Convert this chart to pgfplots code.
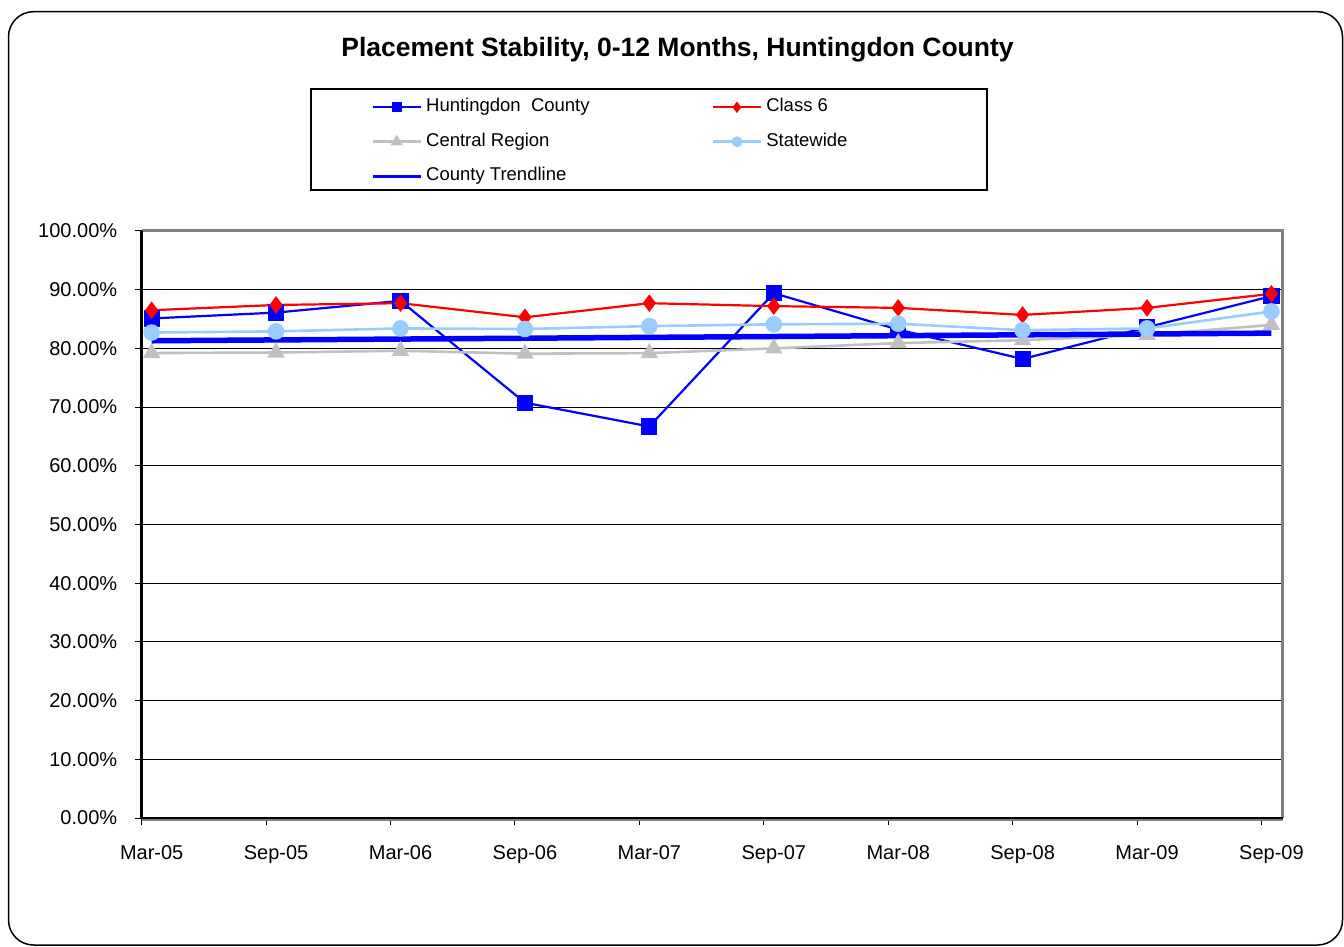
\documentclass[border=0pt]{standalone}
\usepackage{fontspec}
\setmainfont{Liberation Sans}
\usepackage{pgfplots}
\pgfplotsset{compat=1.18}
\definecolor{huntblue}{RGB}{0,0,255}
\definecolor{classred}{RGB}{255,0,0}
\definecolor{centralgray}{RGB}{192,192,192}
\definecolor{statelight}{RGB}{153,204,255}
\definecolor{frame}{RGB}{128,128,128}
\begin{document}
\begin{tikzpicture}[x=1pt,y=1pt]
\path[use as bounding box] (0,0) rectangle (1344,946);
% outer chart frame
\draw[line width=1.5pt, rounded corners=25pt] (8.5,1) rectangle (1342.5,934.3);
\node[anchor=base, font=\fontsize{26.5}{30}\selectfont\bfseries] at (677.5,889)
  {Placement Stability, 0-12 Months, Huntingdon County};
% legend box
\draw[line width=1.5pt] (311,857) rectangle (987,756);
\begin{axis}[
  at={(141.7pt,128pt)}, anchor=south west,
  scale only axis, width=1141pt, height=587pt,
  xmin=-0.08, xmax=9.09,
  ymin=0, ymax=100,
  xtick={-0.08,0.92,1.92,2.92,3.92,4.92,5.92,6.92,7.92,8.92},
  xticklabels={Mar-05,Sep-05,Mar-06,Sep-06,Mar-07,Sep-07,Mar-08,Sep-08,Mar-09,Sep-09},
  xticklabel style={xshift=10pt, yshift=-17pt, font=\fontsize{20}{24}\selectfont},
  ytick={0,10,20,30,40,50,60,70,80,90,100},
  yticklabels={0.00\%,10.00\%,20.00\%,30.00\%,40.00\%,50.00\%,60.00\%,70.00\%,80.00\%,90.00\%,100.00\%},
  yticklabel style={xshift=-14pt, font=\fontsize{20}{24}\selectfont},
  ymajorgrids, major grid style={black, line width=1pt},
  tick pos=left, tick align=outside, major tick length=7pt,
  tick style={black, line width=1pt},
  axis line style={draw=none},
  clip=false,
  legend columns=2,
  legend style={draw=none, fill=none, at={(0.1983,1.2290)}, anchor=north west,
    font=\fontsize{18.5}{22}\selectfont, row sep=17.5pt,
    nodes={inner xsep=4pt, inner ysep=0pt, text height=13pt, text depth=4pt},
    /tikz/every even column/.append style={column sep=118pt}},
  legend cell align=left,
  legend image code/.code={\draw[mark repeat=2,mark phase=2,#1] plot coordinates {(0pt,0pt) (24pt,0pt) (48pt,0pt)};},
]
\addplot[huntblue, line width=2.2pt, mark=square*, mark size=7pt,
  legend image post style={mark size=4pt}] coordinates {
  (0,85.1) (1,86.1) (2,88.1) (3,70.75) (4,66.7)
  (5,89.4) (6,83.2) (7,78.2) (8,83.6) (9,88.9)
};
\addlegendentry{Huntingdon\ \ County}
\addplot[classred, line width=2.2pt, mark=diamond*, mark size=7pt,
  legend image post style={mark size=4pt}] coordinates {
  (0,86.5) (1,87.4) (2,87.7) (3,85.3) (4,87.7)
  (5,87.2) (6,86.9) (7,85.7) (8,86.9) (9,89.3)
};
\addlegendentry{Class 6}
\addplot[centralgray, line width=2.6pt, mark=triangle*, mark size=7.5pt,
  legend image post style={mark size=4.5pt}] coordinates {
  (0,79.2) (1,79.3) (2,79.6) (3,79.1) (4,79.2)
  (5,80.0) (6,80.9) (7,81.4) (8,82.3) (9,84.0)
};
\addlegendentry{Central Region}
\addplot[statelight, line width=2.6pt, mark=*, mark size=7pt,
  legend image post style={mark size=4pt}] coordinates {
  (0,82.7) (1,82.9) (2,83.4) (3,83.3) (4,83.8)
  (5,84.1) (6,84.2) (7,83.1) (8,83.4) (9,86.3)
};
\addlegendentry{Statewide}
\addplot[huntblue, line width=5.5pt, no marks,
  legend image post style={line width=3pt}] coordinates {
  (0,81.3) (9,82.6)
};
\addlegendentry{County Trendline}
% plot area border: grey top and right, black left and bottom
\draw[frame, line width=3pt] (rel axis cs:0,1) -- (rel axis cs:1,1) -- (rel axis cs:1,0);
\draw[frame, line width=1.5pt] ([yshift=-2pt]rel axis cs:0,0) -- ([yshift=-2pt]rel axis cs:1,0);
\draw[black, line width=2pt] (rel axis cs:0,0) -- (rel axis cs:1,0);
\draw[black, line width=3pt] (rel axis cs:0,0) -- (rel axis cs:0,1);
\end{axis}
\end{tikzpicture}
\end{document}
